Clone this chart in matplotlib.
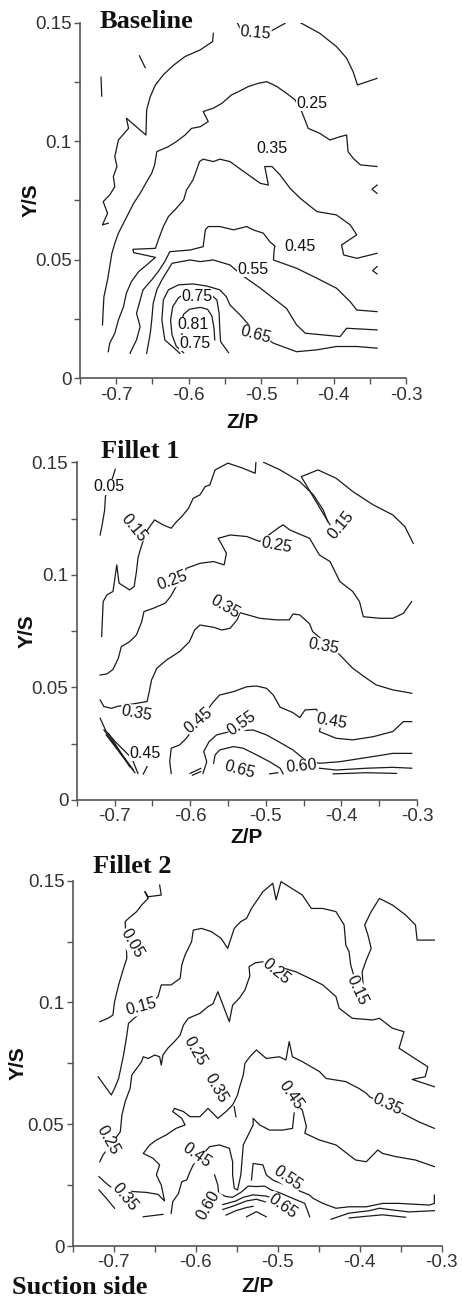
import matplotlib.pyplot as plt
from matplotlib.ticker import FixedLocator, FormatStrFormatter

plt.rcParams['font.family'] = ['Liberation Sans', 'DejaVu Sans']
plt.rcParams['axes.unicode_minus'] = False

# ---------------- Baseline : contour lines (Z/P, Y/S) ----------------
base_015a_z = [-0.566, -0.567, -0.584, -0.605, -0.621, -0.635, -0.646, -0.653, -0.658, -0.659, -0.686,
               -0.683, -0.697, -0.702, -0.699, -0.704, -0.702, -0.709, -0.718, -0.712, -0.719, -0.711]
base_015a_y = [0.1455, 0.142, 0.1385, 0.1357, 0.132, 0.128, 0.1237, 0.1188, 0.1132, 0.1026, 0.1097,
               0.1054, 0.1005, 0.0935, 0.0893, 0.0851, 0.0808, 0.0773, 0.0745, 0.0696, 0.0647, 0.0654]
base_015b_z = [-0.533, -0.528]
base_015b_y = [0.150, 0.147]
base_015c_z = [-0.492, -0.467]
base_015c_y = [0.1455, 0.1497]
base_015d_z = [-0.446, -0.419, -0.396, -0.382, -0.373, -0.367, -0.340]
base_015d_y = [0.150, 0.1455, 0.1399, 0.135, 0.1293, 0.1237, 0.1265]
base_s1_z = [-0.721, -0.720]
base_s1_y = [0.127, 0.119]
base_s2_z = [-0.668, -0.660]
base_s2_y = [0.136, 0.131]
base_s3_z = [-0.340, -0.347, -0.340]
base_s3_y = [0.0815, 0.0797, 0.0780]
base_s4_z = [-0.340, -0.346, -0.340]
base_s4_y = [0.0471, 0.0454, 0.0440]
base_025_z = [-0.340, -0.363, -0.373, -0.380, -0.382, -0.391, -0.405, -0.419, -0.435, -0.444,
              -0.453, -0.465, -0.478, -0.492, -0.504, -0.518, -0.531, -0.541, -0.554, -0.566, -0.580,
              -0.573, -0.584, -0.596, -0.605, -0.617, -0.628, -0.644, -0.647, -0.651, -0.658, -0.667,
              -0.676, -0.683, -0.690, -0.697, -0.702, -0.706, -0.709, -0.712, -0.717, -0.718, -0.719]
base_025_y = [0.0893, 0.0900, 0.0928, 0.0956, 0.1026, 0.1019, 0.1005, 0.1033, 0.1054, 0.1125,
              0.1174, 0.1202, 0.1230, 0.1251, 0.1244, 0.1230, 0.1209, 0.1195, 0.1160, 0.1139, 0.1125,
              0.1083, 0.1061, 0.1054, 0.1026, 0.0998, 0.0977, 0.0956, 0.0900, 0.0865, 0.0829, 0.0780,
              0.0738, 0.0696, 0.0654, 0.0612, 0.0569, 0.0527, 0.0471, 0.0415, 0.0344, 0.0288, 0.0225]
base_035_z = [-0.340, -0.368, -0.386, -0.389, -0.368, -0.377, -0.396, -0.423, -0.446, -0.460,
              -0.474, -0.485, -0.495, -0.490, -0.501, -0.524, -0.543, -0.557, -0.566, -0.580,
              -0.585, -0.589, -0.594, -0.603, -0.607, -0.617, -0.628, -0.635, -0.642, -0.646,
              -0.677, -0.676, -0.646, -0.658, -0.669, -0.679, -0.686, -0.690, -0.697, -0.702, -0.709, -0.711]
base_035_y = [0.0527, 0.0506, 0.0520, 0.0562, 0.0605, 0.0647, 0.0689, 0.0703, 0.0759, 0.0801,
              0.0858, 0.0893, 0.0893, 0.0815, 0.0822, 0.0872, 0.0914, 0.0924, 0.0914, 0.0924,
              0.0914, 0.0879, 0.0837, 0.0794, 0.0752, 0.0717, 0.0682, 0.0640, 0.0583, 0.0548,
              0.0544, 0.0530, 0.0510, 0.0478, 0.0450, 0.0408, 0.0359, 0.0302, 0.0246, 0.0190, 0.0148, 0.0112]
base_045_z = [-0.681, -0.672, -0.667, -0.672, -0.667, -0.663, -0.651, -0.642, -0.633, -0.626,
              -0.598, -0.580, -0.577, -0.573, -0.557, -0.538, -0.520, -0.511, -0.497, -0.488,
              -0.481, -0.482, -0.483, -0.451, -0.423, -0.396, -0.377, -0.368, -0.340]
base_045_y = [0.0105, 0.0162, 0.0218, 0.0274, 0.0330, 0.0373, 0.0415, 0.0450, 0.0492, 0.0534,
              0.0541, 0.0555, 0.0626, 0.0640, 0.0640, 0.0626, 0.0640, 0.0626, 0.0612, 0.0576,
              0.0558, 0.0541, 0.0499, 0.0464, 0.0422, 0.0380, 0.0323, 0.0288, 0.0281]
base_055_z = [-0.658, -0.653, -0.651, -0.649, -0.644, -0.637, -0.630, -0.623, -0.598, -0.584, -0.566,
              -0.543, -0.527, -0.501, -0.483, -0.465, -0.451, -0.439, -0.391, -0.382, -0.340]
base_055_y = [0.0105, 0.0190, 0.0246, 0.0316, 0.0373, 0.0415, 0.0450, 0.0485, 0.0499, 0.0492, 0.0499,
              0.0478, 0.0436, 0.0380, 0.0337, 0.0295, 0.0225, 0.0190, 0.0176, 0.0211, 0.0204]
base_065_z = [-0.612, -0.633, -0.637, -0.635, -0.628, -0.614, -0.594, -0.575, -0.557, -0.548,
              -0.543, -0.529, -0.511, -0.483, -0.451, -0.423, -0.396, -0.368, -0.340]
base_065_y = [0.0105, 0.0162, 0.0246, 0.0330, 0.0373, 0.0394, 0.0398, 0.0389, 0.0373, 0.0344,
              0.0309, 0.0267, 0.0204, 0.0148, 0.0112, 0.0120, 0.0134, 0.0134, 0.0127]
base_075_z = [-0.607, -0.617, -0.623, -0.625, -0.622, -0.614, -0.603, -0.584, -0.570, -0.561,
              -0.558, -0.557, -0.556, -0.545]
base_075_y = [0.0108, 0.0134, 0.0183, 0.0246, 0.0302, 0.0340, 0.0359, 0.0363, 0.0356, 0.0330,
              0.0274, 0.0204, 0.0155, 0.0108]
base_081_z = [-0.608, -0.612, -0.607, -0.599, -0.584, -0.574, -0.568, -0.565, -0.564]
base_081_y = [0.0169, 0.0225, 0.0270, 0.0291, 0.0299, 0.0291, 0.0263, 0.0211, 0.0162]

base_lab_text = ['0.15', '0.25', '0.35', '0.45', '0.55', '0.65', '0.75', '0.81', '0.75']
base_lab_z = [-0.508, -0.430, -0.485, -0.446, -0.511, -0.508, -0.589, -0.594, -0.591]
base_lab_y = [0.1455, 0.1160, 0.0970, 0.0555, 0.0460, 0.0183, 0.0344, 0.0225, 0.0148]
base_lab_rot = [-5, 0, 0, 0, 0, -15, 0, 0, 0]

# ---------------- Fillet 1 ----------------
f1_005_z = [-0.699, -0.702, -0.712, -0.713, -0.716, -0.719]
f1_005_y = [0.1469, 0.1436, 0.1348, 0.1288, 0.1229, 0.1177]
f1_015a_z = [-0.717, -0.715, -0.710, -0.702, -0.697, -0.694, -0.680, -0.674, -0.671, -0.669, -0.666,
             -0.658, -0.647, -0.636, -0.625, -0.618, -0.611, -0.602, -0.596, -0.587, -0.580, -0.574,
             -0.567, -0.550, -0.530, -0.514, -0.513]
f1_015a_y = [0.0726, 0.0881, 0.0911, 0.0926, 0.1044, 0.0963, 0.0933, 0.0948, 0.1014, 0.1074, 0.1111,
             0.1192, 0.1244, 0.1222, 0.1207, 0.1236, 0.1259, 0.1296, 0.1340, 0.1355, 0.1392, 0.1399,
             0.1466, 0.1496, 0.1473, 0.1451, 0.1499]
f1_015b_z = [-0.503, -0.481, -0.455, -0.437, -0.424, -0.418]
f1_015b_y = [0.150, 0.1466, 0.1414, 0.1355, 0.1288, 0.1236]
f1_015c_z = [-0.415, -0.431, -0.453, -0.431, -0.407, -0.385, -0.358, -0.332, -0.316, -0.305]
f1_015c_y = [0.1222, 0.1311, 0.1436, 0.1466, 0.1429, 0.1370, 0.1311, 0.1266, 0.1214, 0.1140]
f1_025_z = [-0.719, -0.710, -0.702, -0.695, -0.691, -0.680, -0.671, -0.664, -0.661, -0.649, -0.633, -0.626,
            -0.605, -0.587, -0.569, -0.555, -0.552, -0.558, -0.563, -0.547, -0.525, -0.508,
            -0.481, -0.477, -0.468, -0.442, -0.429, -0.415, -0.402, -0.385, -0.376, -0.371, -0.349,
            -0.332, -0.318, -0.307]
f1_025_y = [0.0555, 0.0560, 0.0580, 0.0629, 0.0681, 0.0703, 0.0733, 0.0792, 0.0837, 0.0851, 0.0874, 0.0903,
            0.1029, 0.1051, 0.1059, 0.1044, 0.1096, 0.1133, 0.1162, 0.1177, 0.1170, 0.1148,
            0.1214, 0.1222, 0.1199, 0.1162, 0.1088, 0.1059, 0.0970, 0.0926, 0.0881, 0.0814, 0.0807,
            0.0807, 0.0829, 0.0881]
f1_035_z = [-0.719, -0.714, -0.704, -0.697, -0.657, -0.654, -0.651, -0.644, -0.631, -0.614, -0.601,
            -0.594, -0.587, -0.569, -0.558, -0.547, -0.538, -0.534, -0.508, -0.486, -0.469, -0.464,
            -0.455, -0.442, -0.438, -0.402, -0.385, -0.367, -0.354, -0.332, -0.307]
f1_035_y = [0.0444, 0.0415, 0.0407, 0.0415, 0.0437, 0.0481, 0.0533, 0.0585, 0.0622, 0.0659, 0.0703,
            0.0755, 0.0777, 0.0767, 0.0755, 0.0763, 0.0800, 0.0832, 0.0807, 0.0800, 0.0800, 0.0826,
            0.0822, 0.0782, 0.0748, 0.0644, 0.0585, 0.0541, 0.0511, 0.0489, 0.0474]
f1_045a_z = [-0.719, -0.711, -0.699, -0.688, -0.677, -0.669]
f1_045a_y = [0.0363, 0.0304, 0.0259, 0.0222, 0.0185, 0.0118]
f1_h1_z = [-0.714, -0.675]
f1_h1_y = [0.0311, 0.0133]
f1_h2_z = [-0.711, -0.673]
f1_h2_y = [0.0289, 0.0121]
f1_h3_z = [-0.708, -0.680]
f1_h3_y = [0.0296, 0.0148]
f1_045s_z = [-0.657, -0.662]
f1_045s_y = [0.0148, 0.0115]
f1_045b_z = [-0.625, -0.627, -0.625, -0.614, -0.605, -0.569, -0.561, -0.543, -0.525, -0.512, -0.499,
             -0.490, -0.481, -0.464, -0.455, -0.448, -0.433, -0.426, -0.429, -0.407, -0.385, -0.358,
             -0.332, -0.318, -0.307]
f1_045b_y = [0.0118, 0.0170, 0.0230, 0.0244, 0.0274, 0.0437, 0.0466, 0.0481, 0.0503, 0.0506, 0.0496,
             0.0466, 0.0412, 0.0388, 0.0366, 0.0400, 0.0403, 0.0355, 0.0304, 0.0274, 0.0267, 0.0281,
             0.0304, 0.0348, 0.0348]
f1_055_z = [-0.583, -0.578, -0.582, -0.575, -0.565, -0.547, -0.517, -0.499, -0.481, -0.464, -0.448,
            -0.429, -0.402, -0.358, -0.332, -0.307]
f1_055_y = [0.0118, 0.0170, 0.0215, 0.0259, 0.0289, 0.0304, 0.0311, 0.0289, 0.0255, 0.0222, 0.0178,
            0.0163, 0.0170, 0.0193, 0.0207, 0.0207]
f1_065_z = [-0.569, -0.567, -0.561, -0.543, -0.530, -0.512, -0.495, -0.481, -0.477]
f1_065_y = [0.0163, 0.0200, 0.0222, 0.0237, 0.0230, 0.0200, 0.0170, 0.0141, 0.0116]
f1_f1_z = [-0.600, -0.586]
f1_f1_y = [0.0118, 0.0140]
f1_f2_z = [-0.597, -0.586]
f1_f2_y = [0.0110, 0.0126]
f1_dash_z = [-0.495, -0.484]
f1_dash_y = [0.0116, 0.0121]
f1_r2_z = [-0.429, -0.407, -0.367, -0.332, -0.307]
f1_r2_y = [0.0141, 0.0133, 0.0141, 0.0145, 0.0141]
f1_r3_z = [-0.411, -0.367, -0.327]
f1_r3_y = [0.0116, 0.0121, 0.0118]

f1_lab_text = ['0.05', '0.15', '0.15', '0.25', '0.25', '0.35', '0.35', '0.35',
               '0.45', '0.45', '0.45', '0.55', '0.60', '0.65']
f1_lab_z = [-0.708, -0.675, -0.400, -0.624, -0.486, -0.554, -0.671, -0.424,
            -0.660, -0.589, -0.413, -0.532, -0.453, -0.534]
f1_lab_y = [0.1392, 0.1207, 0.1222, 0.0977, 0.1133, 0.0859, 0.0385, 0.0681,
            0.0207, 0.0355, 0.0348, 0.0341, 0.0148, 0.0133]
f1_lab_rot = [0, -50, 50, 20, -10, -30, -10, -10, 0, 40, -10, 35, 5, -15]

# ---------------- Fillet 2 ----------------
f2_005_z = [-0.644, -0.642, -0.658, -0.662, -0.658, -0.666, -0.672, -0.682, -0.686, -0.684, -0.688,
            -0.694, -0.699, -0.701, -0.707, -0.717]
f2_005_y = [0.1482, 0.1441, 0.1434, 0.1455, 0.1427, 0.1400, 0.1373, 0.1345, 0.1332, 0.1181, 0.1140,
            0.1072, 0.1003, 0.0948, 0.0935, 0.0921]
f2_015_z = [-0.719, -0.703, -0.699, -0.694, -0.688, -0.684, -0.682,
            -0.646, -0.642, -0.630, -0.619, -0.617, -0.613, -0.605, -0.603, -0.593, -0.581,
            -0.569, -0.561, -0.553, -0.545, -0.538, -0.532, -0.518, -0.506, -0.502, -0.496,
            -0.486, -0.470, -0.459, -0.445, -0.429, -0.419, -0.417, -0.413, -0.411, -0.405,
            -0.399, -0.396, -0.397, -0.392, -0.386, -0.390, -0.394, -0.386, -0.376, -0.360,
            -0.344, -0.332, -0.330, -0.309]
f2_015_y = [0.0695, 0.0620, 0.0647, 0.0688, 0.0784, 0.0866, 0.0914,
            0.1024, 0.1072, 0.1072, 0.1099, 0.1154, 0.1195, 0.1250, 0.1297, 0.1304, 0.1291,
            0.1263, 0.1222, 0.1304, 0.1332, 0.1345, 0.1386, 0.1455, 0.1489, 0.1421, 0.1496,
            0.1475, 0.1441, 0.1386, 0.1386, 0.1373, 0.1318, 0.1236, 0.1208, 0.1154, 0.1085,
            0.1017, 0.1078, 0.1126, 0.1174, 0.1222, 0.1277, 0.1318, 0.1373, 0.1427, 0.1400,
            0.1359, 0.1318, 0.1256, 0.1256]
f2_025_z = [-0.717, -0.713, -0.692, -0.690, -0.686, -0.680, -0.678, -0.672, -0.666, -0.664,
            -0.658, -0.650, -0.644, -0.642, -0.640, -0.634, -0.626, -0.619, -0.615, -0.609,
            -0.595, -0.585, -0.579, -0.573, -0.559, -0.555, -0.547, -0.540, -0.534, -0.535,
            -0.527, -0.518, -0.478, -0.461, -0.445, -0.429, -0.425, -0.409, -0.384, -0.376,
            -0.360, -0.346, -0.352, -0.336, -0.317, -0.320, -0.336, -0.309]
f2_025_y = [0.0346, 0.0374, 0.0469, 0.0538, 0.0593, 0.0647, 0.0702, 0.0729, 0.0757, 0.0777,
            0.0770, 0.0784, 0.0777, 0.0743, 0.0784, 0.0812, 0.0839, 0.0866, 0.0907, 0.0935,
            0.0955, 0.0983, 0.0994, 0.1044, 0.0921, 0.0989, 0.1017, 0.1051, 0.1109, 0.1147,
            0.1163, 0.1167, 0.1126, 0.1099, 0.1072, 0.1024, 0.0976, 0.0935, 0.0928, 0.0935,
            0.0894, 0.0880, 0.0812, 0.0777, 0.0736, 0.0695, 0.0684, 0.0654]
f2_035_z = [-0.718, -0.709, -0.699, -0.674, -0.660, -0.646, -0.638, -0.642, -0.648, -0.644,
            -0.652, -0.664, -0.656, -0.648, -0.636, -0.624, -0.613, -0.617, -0.628, -0.626,
            -0.615, -0.607, -0.595, -0.585, -0.577, -0.573, -0.563, -0.555, -0.549, -0.547,
            -0.542, -0.540, -0.534, -0.526, -0.514, -0.498, -0.490, -0.486, -0.482, -0.470,
            -0.449, -0.441, -0.417, -0.401, -0.392, -0.388, -0.344, -0.328, -0.309]
f2_035_y = [0.0285, 0.0257, 0.0230, 0.0223, 0.0220, 0.0212, 0.0185, 0.0250, 0.0292, 0.0333,
            0.0360, 0.0380, 0.0415, 0.0435, 0.0456, 0.0483, 0.0497, 0.0524, 0.0552, 0.0565,
            0.0552, 0.0531, 0.0531, 0.0565, 0.0538, 0.0524, 0.0552, 0.0579, 0.0620, 0.0647,
            0.0702, 0.0750, 0.0777, 0.0805, 0.0770, 0.0777, 0.0764, 0.0839, 0.0777, 0.0757,
            0.0716, 0.0688, 0.0675, 0.0647, 0.0627, 0.0613, 0.0538, 0.0510, 0.0483]
f2_035s_z = [-0.718, -0.709, -0.699]
f2_035s_y = [0.0230, 0.0196, 0.0155]
f2_045_z = [-0.630, -0.628, -0.621, -0.617, -0.611, -0.607, -0.603, -0.583, -0.571, -0.559,
            -0.555, -0.555, -0.553, -0.549, -0.545, -0.542, -0.536, -0.530, -0.530, -0.522,
            -0.510, -0.494, -0.482, -0.480, -0.482, -0.476, -0.470, -0.465, -0.467, -0.449,
            -0.429, -0.405, -0.392, -0.378, -0.372, -0.356, -0.332, -0.309]
f2_045_y = [0.0134, 0.0182, 0.0216, 0.0264, 0.0271, 0.0305, 0.0333, 0.0408, 0.0415, 0.0401,
            0.0346, 0.0292, 0.0237, 0.0230, 0.0292, 0.0415, 0.0456, 0.0497, 0.0524, 0.0497,
            0.0476, 0.0476, 0.0483, 0.0545, 0.0586, 0.0579, 0.0558, 0.0490, 0.0463, 0.0435,
            0.0415, 0.0353, 0.0346, 0.0394, 0.0380, 0.0367, 0.0353, 0.0326]
f2_055_z = [-0.532, -0.530, -0.518, -0.514, -0.506, -0.461, -0.457, -0.445, -0.429, -0.413,
            -0.392, -0.372, -0.352, -0.315, -0.309, -0.309]
f2_055_y = [0.0271, 0.0339, 0.0333, 0.0292, 0.0271, 0.0209, 0.0196, 0.0175, 0.0155, 0.0161,
            0.0161, 0.0175, 0.0175, 0.0168, 0.0175, 0.0209]
f2_060_z = [-0.577, -0.573, -0.572, -0.563, -0.555, -0.545, -0.536, -0.526, -0.516, -0.508,
            -0.498, -0.482, -0.467, -0.461]
f2_060_y = [0.0292, 0.0250, 0.0216, 0.0203, 0.0200, 0.0220, 0.0246, 0.0244, 0.0246, 0.0230,
            0.0219, 0.0196, 0.0175, 0.0120]
f2_k2_z = [-0.567, -0.551, -0.542, -0.530, -0.514, -0.502]
f2_k2_y = [0.0170, 0.0185, 0.0200, 0.0210, 0.0205, 0.0190]
f2_k3_z = [-0.567, -0.555, -0.538, -0.526, -0.514, -0.508]
f2_k3_y = [0.0150, 0.0163, 0.0185, 0.0192, 0.0180, 0.0168]
f2_k4_z = [-0.563, -0.551, -0.538, -0.530]
f2_k4_y = [0.0127, 0.0145, 0.0158, 0.0163]
f2_k5_z = [-0.538, -0.526, -0.514]
f2_k5_y = [0.0120, 0.0141, 0.0120]
f2_hook_z = [-0.553, -0.551]
f2_hook_y = [0.0572, 0.0531]
f2_b1_z = [-0.664, -0.640]
f2_b1_y = [0.0120, 0.0130]
f2_rb1_z = [-0.435, -0.413, -0.388, -0.376, -0.360, -0.340, -0.309]
f2_rb1_y = [0.0110, 0.0135, 0.0145, 0.0155, 0.0148, 0.0140, 0.0145]
f2_rb2_z = [-0.413, -0.392, -0.372, -0.344]
f2_rb2_y = [0.0115, 0.0122, 0.0128, 0.0118]

f2_lab_text = ['0.05', '0.15', '0.15', '0.25', '0.25', '0.25', '0.35', '0.35', '0.35',
               '0.45', '0.45', '0.55', '0.60', '0.65']
f2_lab_z = [-0.678, -0.666, -0.403, -0.707, -0.601, -0.502, -0.575, -0.366, -0.686,
            -0.599, -0.484, -0.488, -0.585, -0.494]
f2_lab_y = [0.1243, 0.0983, 0.1051, 0.0435, 0.0798, 0.1126, 0.0647, 0.0579, 0.0203,
            0.0374, 0.0620, 0.0278, 0.0168, 0.0164]
f2_lab_rot = [-60, 15, -65, -60, -60, -40, -60, -25, -50, -35, -55, -35, 60, -35]

# ---------------- assemble ----------------
base_lines = [(base_015a_z, base_015a_y), (base_015b_z, base_015b_y), (base_015c_z, base_015c_y),
              (base_015d_z, base_015d_y), (base_s1_z, base_s1_y), (base_s2_z, base_s2_y),
              (base_s3_z, base_s3_y), (base_s4_z, base_s4_y), (base_025_z, base_025_y),
              (base_035_z, base_035_y), (base_045_z, base_045_y), (base_055_z, base_055_y),
              (base_065_z, base_065_y), (base_075_z, base_075_y), (base_081_z, base_081_y)]
f1_lines = [(f1_005_z, f1_005_y), (f1_015a_z, f1_015a_y), (f1_015b_z, f1_015b_y),
            (f1_015c_z, f1_015c_y), (f1_025_z, f1_025_y), (f1_035_z, f1_035_y),
            (f1_045a_z, f1_045a_y), (f1_h1_z, f1_h1_y), (f1_h2_z, f1_h2_y), (f1_h3_z, f1_h3_y),
            (f1_045s_z, f1_045s_y), (f1_045b_z, f1_045b_y), (f1_055_z, f1_055_y),
            (f1_065_z, f1_065_y), (f1_f1_z, f1_f1_y), (f1_f2_z, f1_f2_y), (f1_dash_z, f1_dash_y),
            (f1_r2_z, f1_r2_y), (f1_r3_z, f1_r3_y)]
f2_lines = [(f2_005_z, f2_005_y), (f2_015_z, f2_015_y), (f2_025_z, f2_025_y),
            (f2_035_z, f2_035_y), (f2_035s_z, f2_035s_y), (f2_045_z, f2_045_y),
            (f2_055_z, f2_055_y), (f2_060_z, f2_060_y), (f2_k2_z, f2_k2_y), (f2_k3_z, f2_k3_y),
            (f2_k4_z, f2_k4_y), (f2_k5_z, f2_k5_y), (f2_hook_z, f2_hook_y), (f2_b1_z, f2_b1_y),
            (f2_rb1_z, f2_rb1_y), (f2_rb2_z, f2_rb2_y)]

fig = plt.figure(figsize=(4.62, 13.08), dpi=100)

panels = [
    # axes rect, lines, labels, title, title pos, Z/P offset, Y/S offset
    ([0.1732, 0.7108, 0.7056, 0.2719], base_lines,
     (base_lab_text, base_lab_z, base_lab_y, base_lab_rot), 'Baseline', (0.216, 0.9832), -0.124, -0.150),
    ([0.1660, 0.3884, 0.7366, 0.2582], f1_lines,
     (f1_lab_text, f1_lab_z, f1_lab_y, f1_lab_rot), 'Fillet 1', (0.218, 0.6550), -0.110, -0.146),
    ([0.1574, 0.0474, 0.7987, 0.2793], f2_lines,
     (f2_lab_text, f2_lab_z, f2_lab_y, f2_lab_rot), 'Fillet 2', (0.201, 0.3379), -0.112, -0.148),
]

for rect, lines, labs, title, tpos, xl_off, yl_off in panels:
    ax = fig.add_axes(rect)
    for z, y in lines:
        ax.plot(z, y, color='#1a1a1a', lw=0.9)
    for t, z, y, r in zip(*labs):
        ax.text(z, y, t, rotation=r, rotation_mode='anchor', ha='center', va='center',
                fontsize=11.5, color='#111111', zorder=3,
                bbox=dict(fc='white', ec='none', pad=0.4))
    ax.set_xlim(-0.75, -0.3)
    ax.set_ylim(0, 0.15)
    ax.xaxis.set_major_locator(FixedLocator([-0.7, -0.6, -0.5, -0.4, -0.3]))
    ax.xaxis.set_minor_locator(FixedLocator([-0.75, -0.65, -0.55, -0.45, -0.35]))
    ax.yaxis.set_major_locator(FixedLocator([0, 0.05, 0.1, 0.15]))
    ax.yaxis.set_minor_locator(FixedLocator([0.025, 0.075, 0.125]))
    ax.xaxis.set_major_formatter(FormatStrFormatter('%g'))
    ax.yaxis.set_major_formatter(FormatStrFormatter('%g'))
    for s in ['top', 'right']:
        ax.spines[s].set_visible(False)
    for s in ['left', 'bottom']:
        ax.spines[s].set_color('#555555')
        ax.spines[s].set_linewidth(1.2)
    ax.tick_params(which='both', direction='out', length=4.5, width=1.0, color='#555555',
                   labelsize=13.5, labelcolor='#333333', pad=1.5)
    ax.set_xlabel('Z/P', fontsize=15, fontweight='bold', color='#111111')
    ax.set_ylabel('Y/S', fontsize=15, fontweight='bold', color='#111111')
    ax.xaxis.set_label_coords(0.5, xl_off)
    ax.yaxis.set_label_coords(yl_off, 0.5)
    ax.xaxis.label.set_va('center')
    ax.yaxis.label.set_va('center')
    fig.text(tpos[0], tpos[1], title, family='Liberation Serif', fontsize=19, fontweight='bold',
             ha='left', va='center', color='#111111')

fig.text(0.026, 0.0153, 'Suction side', family='Liberation Serif', fontsize=19, fontweight='bold',
         ha='left', va='center', color='#111111')

fig.savefig('out.png', dpi=100)
